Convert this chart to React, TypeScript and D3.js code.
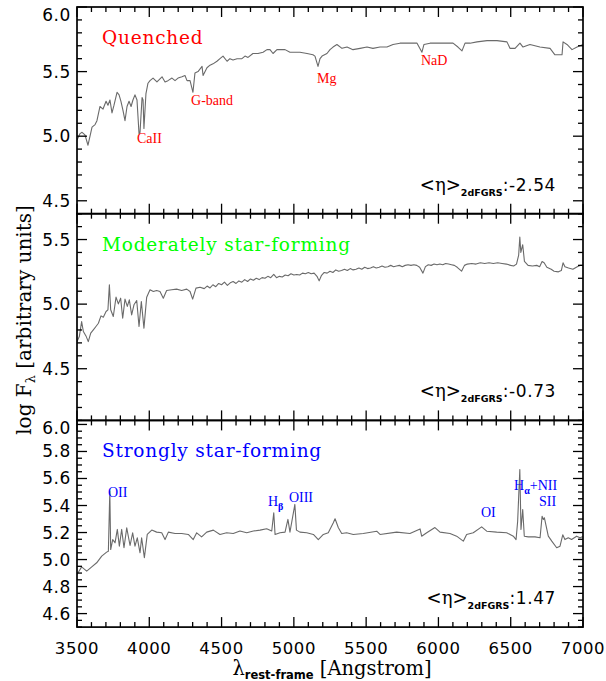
import React from "react";
import * as d3 from "d3";

// ---------- DATA ----------
const quenchedWave = [3500,3521,3535,3555,3576,3604,3625,3638,3659,3680,3701,3714,3728,3742,3756,3777,3791,3804,3818,3832,3846,3860,3874,3887,3901,3915,3929,3936,3950,3957,3963,3977,3991,4005,4026,4053,4088,4109,4129,4157,4178,4199,4226,4247,4261,4282,4302,4316,4337,4365,4372,4399,4420,4441,4468,4489,4510,4538,4558,4579,4607,4641,4662,4683,4717,4752,4787,4814,4835,4856,4883,4918,4939,4973,4994,5042,5091,5132,5146,5167,5181,5195,5229,5250,5271,5298,5333,5368,5409,5458,5506,5547,5596,5644,5686,5734,5803,5852,5886,5900,5942,6011,6059,6101,6135,6163,6184,6218,6267,6336,6405,6474,6495,6530,6564,6585,6633,6702,6772,6806,6855,6862,6889,6924,6959,7000];
const quenchedFlux = [4.97,5.02,5.03,5.01,4.93,5.07,5.09,5.12,5.23,5.21,5.27,5.24,5.28,5.18,5.24,5.34,5.32,5.27,5.20,5.12,5.23,5.27,5.23,5.28,5.32,5.28,5.02,5.03,5.30,5.28,5.06,5.33,5.41,5.43,5.45,5.42,5.46,5.42,5.43,5.45,5.43,5.45,5.46,5.47,5.43,5.43,5.34,5.49,5.50,5.54,5.47,5.53,5.55,5.56,5.58,5.60,5.62,5.58,5.60,5.59,5.60,5.60,5.62,5.61,5.64,5.64,5.65,5.67,5.67,5.64,5.67,5.67,5.67,5.65,5.65,5.65,5.64,5.63,5.62,5.54,5.60,5.62,5.64,5.67,5.69,5.71,5.68,5.69,5.67,5.68,5.69,5.68,5.69,5.69,5.71,5.72,5.72,5.72,5.65,5.71,5.72,5.72,5.72,5.72,5.69,5.66,5.72,5.72,5.73,5.74,5.74,5.73,5.68,5.68,5.72,5.69,5.71,5.69,5.68,5.63,5.63,5.73,5.71,5.67,5.69,5.71];

const moderateWave = [3500,3516,3532,3544,3562,3578,3595,3613,3631,3648,3666,3682,3701,3714,3724,3733,3751,3770,3786,3802,3816,3832,3848,3862,3878,3894,3913,3929,3945,3963,3982,4005,4028,4051,4074,4097,4120,4155,4189,4224,4259,4282,4300,4323,4351,4380,4400,4420,4440,4460,4480,4500,4520,4540,4560,4580,4600,4620,4640,4660,4680,4700,4720,4740,4760,4780,4800,4820,4840,4861,4880,4900,4920,4940,4960,4980,5000,5020,5040,5060,5080,5100,5120,5140,5160,5175,5190,5210,5230,5250,5270,5290,5310,5330,5350,5370,5390,5410,5430,5450,5470,5490,5510,5530,5550,5570,5590,5610,5630,5650,5670,5690,5710,5730,5750,5770,5790,5810,5830,5850,5870,5893,5910,5930,5950,5970,5990,6010,6030,6050,6070,6090,6110,6130,6160,6180,6200,6230,6260,6290,6320,6350,6380,6410,6440,6470,6500,6520,6540,6555,6563,6570,6583,6595,6620,6650,6680,6700,6717,6731,6750,6780,6800,6830,6850,6862,6875,6900,6930,6960,6980,7000];
const moderateFlux = [4.710,4.749,4.865,4.788,4.754,4.710,4.775,4.801,4.827,4.852,4.909,4.899,4.943,4.956,5.150,4.956,4.904,5.054,5.002,5.046,4.891,5.039,4.982,5.033,4.917,4.995,5.028,4.827,5.020,4.814,5.054,5.111,5.098,5.106,5.098,5.046,5.106,5.111,5.116,5.106,5.116,5.098,5.039,5.124,5.131,5.120,5.140,5.125,5.150,5.135,5.160,5.150,5.170,5.145,5.165,5.175,5.160,5.180,5.170,5.190,5.175,5.195,5.185,5.200,5.190,5.205,5.200,5.215,5.205,5.230,5.205,5.215,5.210,5.225,5.220,5.235,5.225,5.230,5.225,5.240,5.235,5.245,5.235,5.240,5.215,5.180,5.220,5.245,5.240,5.255,5.245,5.265,5.255,5.260,5.270,5.260,5.275,5.265,5.270,5.280,5.270,5.285,5.275,5.280,5.290,5.280,5.285,5.295,5.285,5.290,5.300,5.290,5.295,5.300,5.290,5.300,5.305,5.300,5.305,5.300,5.285,5.240,5.290,5.305,5.300,5.310,5.305,5.310,5.305,5.315,5.310,5.305,5.300,5.285,5.255,5.300,5.310,5.315,5.310,5.320,5.315,5.320,5.315,5.320,5.315,5.310,5.300,5.295,5.310,5.380,5.520,5.400,5.460,5.330,5.300,5.295,5.300,5.290,5.330,5.320,5.285,5.270,5.255,5.250,5.260,5.320,5.290,5.280,5.270,5.290,5.300,5.300];

const strongWave = [3500,3532,3567,3602,3636,3671,3705,3717,3727,3733,3747,3763,3779,3793,3809,3825,3844,3867,3885,3901,3917,3936,3947,3966,3986,4017,4051,4086,4109,4132,4178,4224,4270,4304,4328,4362,4397,4443,4489,4535,4581,4627,4674,4720,4766,4812,4847,4861,4870,4904,4939,4959,4973,5007,5018,5042,5089,5135,5169,5204,5238,5273,5285,5308,5331,5365,5411,5480,5573,5596,5711,5803,5873,5884,5919,5976,6011,6080,6126,6172,6195,6241,6299,6334,6403,6472,6518,6537,6548,6563,6571,6583,6594,6622,6668,6703,6717,6726,6733,6760,6784,6818,6841,6860,6875,6898,6921,6956,6979,7000];
const strongFlux = [4.889,4.946,4.914,4.946,4.976,5.025,5.055,5.062,5.507,5.074,5.148,5.124,5.223,5.099,5.223,5.087,5.235,5.104,5.198,5.099,5.161,5.050,5.161,5.013,5.186,5.218,5.203,5.198,5.148,5.203,5.193,5.193,5.186,5.148,5.198,5.168,5.203,5.218,5.186,5.198,5.193,5.211,5.198,5.211,5.218,5.228,5.211,5.346,5.186,5.198,5.203,5.297,5.203,5.408,5.218,5.203,5.198,5.186,5.148,5.186,5.198,5.272,5.302,5.235,5.193,5.198,5.186,5.193,5.210,5.186,5.203,5.193,5.227,5.173,5.198,5.237,5.203,5.193,5.173,5.136,5.186,5.198,5.242,5.210,5.203,5.198,5.173,5.148,5.284,5.667,5.223,5.371,5.173,5.168,5.168,5.161,5.321,5.297,5.309,5.173,5.136,5.087,5.099,5.183,5.148,5.161,5.148,5.173,5.161,5.170];

const xMajorTicks = [3500, 4000, 4500, 5000, 5500, 6000, 6500, 7000];
const panelTitles = ["Quenched", "Moderately star-forming", "Strongly star-forming"];
const panelColors = ["#ff0000", "#00ff00", "#0000ff"];
const etaValues = ["-2.54", "-0.73", "1.47"];
const topYLabels = [4.5, 5.0, 5.5, 6.0];
const midYLabels = [4.5, 5.0, 5.5];
const botYLabels = [4.6, 4.8, 5.0, 5.2, 5.4, 5.6, 5.8, 6.0];

const quenchedLineNames = ["CaII", "G-band", "Mg", "NaD"];
const quenchedLineWave = [3915, 4289, 5160, 5879];
const quenchedLineFlux = [4.946, 5.24, 5.41, 5.55];
const strongLineNames = ["OII", "H_β", "OIII", "OI", "H_α+NII", "SII"];
const strongLineWave = [3714, 4821, 4966, 6294, 6523, 6696];
const strongLineFlux = [5.463, 5.396, 5.426, 5.315, 5.515, 5.396];

// ---------- LAYOUT ----------
const W = 606, H = 681;
const LEFT = 77, RIGHT = 583, TOP = 7, PH = 206.7;
const MAJ = 10, MIN = 5;

const panels = [
  { domain: [4.4, 6.0], major: 0.5, minor: 0.1, labels: topYLabels, wave: quenchedWave, flux: quenchedFlux,
    lines: { names: quenchedLineNames, wave: quenchedLineWave, flux: quenchedLineFlux, color: "#ff0000" } },
  { domain: [4.1, 5.7], major: 0.5, minor: 0.1, labels: midYLabels, wave: moderateWave, flux: moderateFlux, lines: null },
  { domain: [4.5, 6.03], major: 0.2, minor: 0.05, labels: botYLabels, wave: strongWave, flux: strongFlux,
    lines: { names: strongLineNames, wave: strongLineWave, flux: strongLineFlux, color: "#0000ff" } },
];

const xScale = d3.scaleLinear().domain([3500, 7000]).range([LEFT, RIGHT]);

function stepTicks(d0: number, d1: number, step: number) {
  const out: number[] = [];
  const s = Math.ceil(d0 / step - 1e-6);
  for (let k = s; k * step <= d1 + 1e-6; k++) out.push(+(k * step).toFixed(4));
  return out;
}

function isMajor(v: number, step: number) {
  const r = v / step;
  return Math.abs(r - Math.round(r)) < 1e-4;
}

const SANS = "DejaVu Sans";
const SERIF = "DejaVu Serif";

function LineLabel({ name, x, y, color }: { name: string; x: number; y: number; color: string }) {
  const fam = "Liberation Serif";
  if (name.includes("_")) {
    const [a, rest] = name.split("_");
    const sub = rest.charAt(0);
    const after = rest.slice(1);
    return (
      <text x={x} y={y} fill={color} fontFamily={fam} fontSize={14}>
        <tspan>{a}</tspan>
        <tspan fontSize={10} dy={4} fontWeight="bold">{sub}</tspan>
        <tspan dy={-4}>{after}</tspan>
      </text>
    );
  }
  return (
    <text x={x} y={y} fill={color} fontFamily={fam} fontSize={14}>{name}</text>
  );
}

export default function App() {
  const xMinor = stepTicks(3500, 7000, 100);
  return (
    <svg width={W} height={H} style={{ position: "absolute", left: 0, top: 0, background: "#fff" }}>
      <rect x={0} y={0} width={W} height={H} fill="#fff" />
      <defs>
        {panels.map((p, i) => (
          <clipPath id={`clip${i}`} key={i}>
            <rect x={LEFT} y={TOP + i * PH} width={RIGHT - LEFT} height={PH} />
          </clipPath>
        ))}
      </defs>
      {panels.map((p, i) => {
        const y0 = TOP + i * PH;
        const y1 = y0 + PH;
        const yScale = d3.scaleLinear().domain(p.domain).range([y1, y0]);
        const pts: [number, number][] = p.wave.map((w, k) => [w, p.flux[k]] as [number, number]).filter((d) => d[1] !== undefined);
        const path = d3.line<[number, number]>().x((d) => xScale(d[0])).y((d) => yScale(d[1]))(pts) || "";
        const yt = stepTicks(p.domain[0], p.domain[1], p.minor);
        return (
          <g key={i}>
            <path d={path} fill="none" stroke="#6a6a6a" strokeWidth={1.1} clipPath={`url(#clip${i})`} strokeLinejoin="round" />
            {xMinor.map((t) => {
              const len = isMajor(t, 500) ? MAJ : MIN;
              const x = xScale(t);
              return (
                <g key={`x${t}`}>
                  <line x1={x} x2={x} y1={y1} y2={y1 - len} stroke="#000" strokeWidth={1.3} />
                  <line x1={x} x2={x} y1={y0} y2={y0 + len} stroke="#000" strokeWidth={1.3} />
                </g>
              );
            })}
            {yt.map((t) => {
              const len = isMajor(t, p.major) ? MAJ : MIN;
              const y = yScale(t);
              return (
                <g key={`y${t}`}>
                  <line x1={LEFT} x2={LEFT + len} y1={y} y2={y} stroke="#000" strokeWidth={1.3} />
                  <line x1={RIGHT} x2={RIGHT - len} y1={y} y2={y} stroke="#000" strokeWidth={1.3} />
                </g>
              );
            })}
            {p.labels.map((t) => (
              <text key={`l${t}`} x={LEFT - 6} y={Math.max(yScale(t), y0 + 8)} textAnchor="end" dominantBaseline="central"
                fontFamily={SANS} fontSize={17} letterSpacing={0.6} fill="#000">{t.toFixed(1)}</text>
            ))}
            <rect x={LEFT} y={y0} width={RIGHT - LEFT} height={PH} fill="none" stroke="#000" strokeWidth={1.7} />
            <text x={LEFT + 25} y={y0 + 37} fill={panelColors[i]} fontFamily={SERIF} fontSize={18.5} letterSpacing={0.8}>{panelTitles[i]}</text>
            <text x={556} y={y1 - 23} textAnchor="end" fill="#000">
              <tspan fontFamily={SERIF} fontSize={18}>{"<η>"}</tspan>
              <tspan fontFamily={SANS} fontWeight="bold" fontSize={9.5} dy={5}>2dFGRS</tspan>
              <tspan fontFamily={SANS} fontSize={17} dy={-5} letterSpacing={0.6}>{":" + etaValues[i]}</tspan>
            </text>
            {p.lines && p.lines.names.map((n, k) => (
              <LineLabel key={n} name={n} x={xScale(p.lines!.wave[k])} y={yScale(p.lines!.flux[k])} color={p.lines!.color} />
            ))}
          </g>
        );
      })}
      {xMajorTicks.map((t) => (
        <text key={`xl${t}`} x={xScale(t)} y={654} textAnchor="middle" fontFamily={SANS} fontSize={16.5} letterSpacing={0.6} fill="#000">{t}</text>
      ))}
      <text x={332} y={675} textAnchor="middle" fill="#000">
        <tspan fontFamily={SERIF} fontSize={19.5}>λ</tspan>
        <tspan fontFamily={SANS} fontWeight="bold" fontSize={11.5} dy={4}>rest-frame</tspan>
        <tspan fontFamily={SERIF} fontSize={19.5} dy={-4}>{" [Angstrom]"}</tspan>
      </text>
      <text transform={`translate(31,320) rotate(-90)`} textAnchor="middle" fill="#000">
        <tspan fontFamily={SERIF} fontSize={20}>log F</tspan>
        <tspan fontFamily={SERIF} fontSize={13} dy={4}>λ</tspan>
        <tspan fontFamily={SERIF} fontSize={20} dy={-4}>{" [arbitrary units]"}</tspan>
      </text>
    </svg>
  );
}
